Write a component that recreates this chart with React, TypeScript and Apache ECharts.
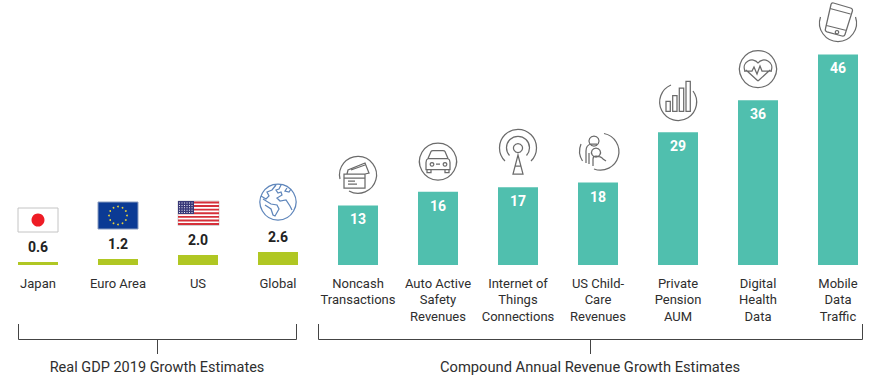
import React, { useEffect, useRef } from "react";
import * as echarts from "echarts";

const categories = [
  "Japan", "Euro Area", "US", "Global",
  "Noncash\nTransactions", "Auto Active\nSafety\nRevenues", "Internet of\nThings\nConnections",
  "US Child-\nCare\nRevenues", "Private\nPension\nAUM", "Digital\nHealth\nData", "Mobile\nData\nTraffic",
];
const gdpValues = [0.6, 1.2, 2.0, 2.6, null, null, null, null, null, null, null];
const gdpLabels = ["0.6", "1.2", "2.0", "2.6"];
const revenueValues = [null, null, null, null, 13, 16, 17, 18, 29, 36, 46];
const leftGroupTitle = "Real GDP 2019 Growth Estimates";
const rightGroupTitle = "Compound Annual Revenue Growth Estimates";

const FONT = "Roboto";
const GREY = "#6b6b6b";

const iconPaths: Record<string, string> = {
  iconCard:
    "M-18 4 A18.5 18.5 0 1 1 -9 16 M-14 -1 L7 -1 L7 13 L-14 13 Z M-14 3 L7 3 M-10 6 L-3 6 M-10 9 L-1 9 M-11 -1 L-10 -5 L7 -12 L11 -2 L7 -1 M-7 -5 L7 -10",
  iconCar:
    "M0 -18.5 A18.5 18.5 0 1 1 -0.01 -18.5 Z M-10 -3 L-7 -10 Q-6.5 -11 -5 -11 L5 -11 Q6.5 -11 7 -10 L10 -3 Q12 -2 12 1 L12 8 L-12 8 L-12 1 Q-12 -2 -10 -3 Z M-10 -3 L10 -3 M-11 8 L-11 11 L-7 11 L-7 8 M7 8 L7 11 L11 11 L11 8 M-2 2.5 L2 2.5 M-6 1 A1.8 1.8 0 1 1 -6.01 1 Z M7 1 A1.8 1.8 0 1 1 6.99 1 Z",
  iconTower:
    "M-13 13 A18.5 18.5 0 1 1 13 13 M-8.5 7.5 A11.5 11.5 0 1 1 8.5 7.5 M0 -4.5 A4.5 4.5 0 1 1 -0.01 -4.5 Z M0 7 L-5 26 L5 26 Z M-3 18 L3 18",
  iconFamily:
    "M6 -17.5 A18.5 18.5 0 1 1 -4 18 M-17 -7 A18.5 18.5 0 0 0 -15.5 10 M-4 -15 A5 5 0 1 1 -4.01 -15 Z M-12 12 L-12 0 Q-12 -6 -7 -7 L-1 -7 M-9 13 L-9 2 M-2 -3 A4.5 4.5 0 1 1 -2.01 -3 Z M-5 15 L-5 8 Q-5 5 -2 5 Q3 5 5 8 L8 10",
  iconBars:
    "M15 -11 A18.5 18.5 0 1 1 -7 -17 M-12 -0.7 L-7.7 -0.7 L-7.7 9.3 L-12 9.3 Z M-5.3 -6.3 L-1 -6.3 L-1 9.3 L-5.3 9.3 Z M1.3 -14 L5.7 -14 L5.7 9.3 L1.3 9.3 Z M8 -20.7 L12.3 -20.7 L12.3 9.3 L8 9.3 Z",
  iconHeart:
    "M0 -18.5 A18.5 18.5 0 1 1 -0.01 -18.5 Z M0 12 L-12 1 M0 12 L12 1 M-13 2 C-17 -7 -5 -13 0 -6 C5 -13 17 -7 13 2 M-14 2 L-6 2 L-4 -2 L-1 5 L2 -3 L4 2 L14 2",
  iconPhone:
    "M-4.5 -20 L12.5 -15 Q15 -14.2 14.4 -12 L7 11.5 Q6.3 13.6 4 13 L-11 8.8 Q-13.2 8 -12.6 6 L-7 -18.5 Q-6.5 -20.5 -4.5 -20 Z M-8 -14.5 L12.5 -9 M-11.5 2.5 L8.5 7.5 M-1 7.5 A1.7 1.7 0 1 1 -1.01 7.5 Z M-17.5 -6 A18.5 18.5 0 1 0 17.5 -6",
  iconGlobe:
    "M0 -18 A18 18 0 1 1 -0.01 -18 Z M-17 -6 L-12 -3 L-9 -6 L-11 -10 L-6 -12 L-2 -17 M-15 -3 L-7 2 L-1 3 L1 7 L-3 14 L-5 13 L-7 7 L-13 3 M3 -17 L1 -13 L-2 -12 L0 -9 L3 -10 L4 -7 L-1 -4 L2 -1 L8 -2 L12 4 L14 8 M9 -14 L7 -11 L11 -10 L13 -13",
};
Object.keys(iconPaths).forEach((name) => {
  echarts.graphic.registerShape(name, echarts.graphic.extendPath(iconPaths[name], {}) as any);
});

function icon(type: string, x: number, y: number, stroke = GREY) {
  return { type, x, y, silent: true, style: { fill: "none", stroke, lineWidth: 1.25 } };
}

function flags() {
  const els: any[] = [];
  els.push({ type: "rect", shape: { x: 18, y: 208, width: 40, height: 24 }, style: { fill: "#fff", stroke: "#c4c4c4", lineWidth: 1 } });
  els.push({ type: "circle", shape: { cx: 38, cy: 220, r: 6.5 }, style: { fill: "#ee1c25" } });
  els.push({ type: "rect", shape: { x: 98, y: 202, width: 40, height: 27 }, style: { fill: "#0b3a94", stroke: "#8a9cc0", lineWidth: 1 } });
  for (let i = 0; i < 12; i++) {
    const a = (i * Math.PI) / 6;
    els.push({ type: "circle", shape: { cx: 118 + 9 * Math.sin(a), cy: 215.5 - 9 * Math.cos(a), r: 0.9 }, style: { fill: "#e8d13a" } });
  }
  els.push({ type: "rect", shape: { x: 178, y: 201, width: 41, height: 24.5 }, style: { fill: "#fff", stroke: "#d4d4d4", lineWidth: 1 } });
  for (let i = 0; i < 7; i++) {
    els.push({ type: "rect", shape: { x: 178, y: 201.5 + i * 3.6, width: 41, height: 1.9 }, style: { fill: "#d5303a" } });
  }
  els.push({ type: "rect", shape: { x: 178, y: 201, width: 16, height: 13 }, style: { fill: "#3a3a78" } });
  for (let r = 0; r < 5; r++) {
    for (let c = 0; c < 6; c++) {
      els.push({ type: "rect", shape: { x: 179 + c * 2.5, y: 202.5 + r * 2.4, width: 1, height: 1 }, style: { fill: "#e6e6f2" } });
    }
  }
  return els;
}

function bracket(x0: number, x1: number, stem: number) {
  const s = { stroke: "#444", lineWidth: 1, fill: "none" };
  return [
    { type: "polyline", shape: { points: [[x0 + 0.5, 324], [x0 + 0.5, 339.5], [x1 + 0.5, 339.5], [x1 + 0.5, 324]] }, style: s },
    { type: "line", shape: { x1: stem + 0.5, y1: 339.5, x2: stem + 0.5, y2: 354 }, style: s },
  ];
}

function groupTitle(text: string, x: number, size: number) {
  return { type: "text", x, y: 367, style: { text, fill: "#2e2e2e", font: `${size}px ${FONT}`, textAlign: "center", textVerticalAlign: "middle" } };
}

export default function App() {
  const ref = useRef<HTMLDivElement>(null);
  useEffect(() => {
    document.body.style.margin = "0";
    const chart = echarts.init(ref.current!, undefined, { renderer: "svg" });
    chart.setOption({
      animation: false,
      grid: { left: 0, top: 5, width: 880, height: 260, containLabel: false },
      xAxis: {
        type: "category",
        data: categories,
        axisLine: { show: false },
        axisTick: { show: false },
        axisLabel: { interval: 0, margin: 10, lineHeight: 16.5, color: "#2e2e2e", fontFamily: FONT, fontSize: 13 },
      },
      yAxis: [
        { type: "value", min: 0, max: 52, show: false },
        { type: "value", min: 0, max: 56.8, show: false },
      ],
      series: [
        {
          type: "bar",
          yAxisIndex: 0,
          data: gdpValues,
          barWidth: 40,
          barGap: "-100%",
          itemStyle: { color: "#b0c723" },
          label: {
            show: true,
            position: "top",
            distance: 8,
            color: "#222",
            fontFamily: FONT,
            fontWeight: "bold",
            fontSize: 14,
            formatter: (p: any) => gdpLabels[p.dataIndex],
          },
        },
        {
          type: "bar",
          yAxisIndex: 1,
          data: revenueValues,
          barWidth: 40,
          barGap: "-100%",
          itemStyle: { color: "#50bfae" },
          label: {
            show: true,
            position: "insideTop",
            distance: 7,
            color: "#fff",
            fontFamily: FONT,
            fontWeight: "bold",
            fontSize: 14,
          },
        },
      ],
      graphic: [
        {
          type: "group",
          x: 2,
          y: 0,
          children: [
            ...flags(),
            icon("iconGlobe", 278, 202, "#5f86bb"),
            icon("iconCard", 358, 175),
            icon("iconCar", 438, 161.5),
            icon("iconTower", 518, 148),
            icon("iconFamily", 598, 151),
            icon("iconBars", 678, 102),
            icon("iconHeart", 758, 69),
            icon("iconPhone", 838, 23),
            ...bracket(18, 296, 157),
            ...bracket(318, 862, 590),
            groupTitle(leftGroupTitle, 157, 14.5),
            groupTitle(rightGroupTitle, 590, 14.7),
          ],
        },
      ],
    });
    return () => chart.dispose();
  }, []);
  return <div ref={ref} style={{ width: 882, height: 377, marginLeft: -2 }} />;
}
